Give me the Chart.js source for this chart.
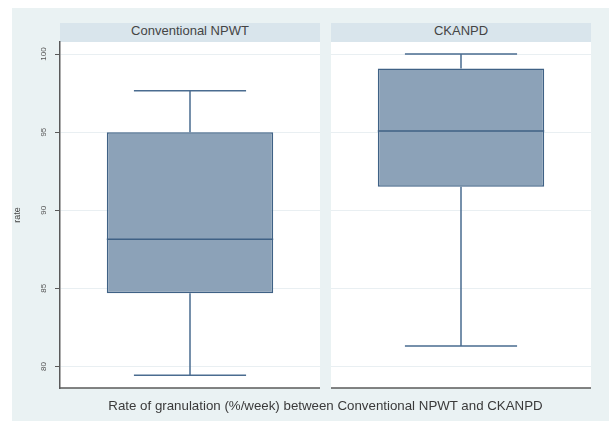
<!DOCTYPE html>
<html>
<head>
<meta charset="utf-8">
<script src="https://cdn.jsdelivr.net/npm/chart.js@4"></script>
<style>
  html, body { margin: 0; padding: 0; background: #ffffff; }
  #wrap { position: relative; width: 609px; height: 421px; overflow: hidden; }
  #bg { position: absolute; left: 12px; top: 8px; right: 0; bottom: 0; background: #eaf2f3; }
  .strip {
    position: absolute; top: 23px; height: 19px; width: 260px;
    background: #d9e5ec; color: #444444; text-align: center; line-height: 19px;
    font: 13px "Liberation Sans", Arial, sans-serif;
  }
  canvas { position: absolute; top: 0; }
  #xtitle {
    position: absolute; left: 60px; width: 531px; top: 398px; text-align: center;
    font: 13.3px "Liberation Sans", Arial, sans-serif; color: #3a3a3a;
  }
</style>
</head>
<body>
<div id="wrap">
  <div id="bg"></div>
  <div class="strip" id="strip0" style="left:60px"></div>
  <div class="strip" id="strip1" style="left:331px"></div>
  <canvas id="c0" width="320" height="421" style="left:0px"></canvas>
  <canvas id="c1" width="260" height="421" style="left:331px"></canvas>
  <div id="xtitle">Rate of granulation (%/week) between Conventional NPWT and CKANPD</div>
</div>
<script>
// Groups and box-plot statistics (rate, %/week)
const groups       = ['Conventional NPWT', 'CKANPD'];
const lowerWhisker = [79.43, 81.31];
const quartile1    = [84.68, 91.50];
const medians      = [88.14, 95.07];
const quartile3    = [95.00, 99.08];
const upperWhisker = [97.65, 100.00];
const yTicks       = [80, 85, 90, 95, 100];
const yTitle       = 'rate';

const Y_MIN = 78.62, Y_MAX = 100.77;
const FILL = '#8ca2b8';
const EDGE = '#3f6185';
const WHISK = '#4a6c90';
const GRID = '#e9eff2';
const AXIS = '#5a5a5a';

// Draws median, whiskers and caps for the box, plus the bottom axis line
const boxWhiskers = {
  id: 'boxWhiskers',
  afterDatasetsDraw(chart, args, opts) {
    const g = opts.group;
    const bar = chart.getDatasetMeta(0).data[0];
    const y = chart.scales.y;
    const ctx = chart.ctx;
    const left = bar.x - bar.width / 2, right = bar.x + bar.width / 2;
    const capHalf = bar.width * 0.337;
    ctx.save();
    ctx.lineCap = 'butt';
    // median
    ctx.strokeStyle = EDGE; ctx.lineWidth = 1.5;
    ctx.beginPath();
    ctx.moveTo(left, y.getPixelForValue(medians[g]));
    ctx.lineTo(right, y.getPixelForValue(medians[g]));
    ctx.stroke();
    // whiskers
    ctx.strokeStyle = WHISK; ctx.lineWidth = 1.5;
    ctx.beginPath();
    ctx.moveTo(bar.x, y.getPixelForValue(quartile3[g]));
    ctx.lineTo(bar.x, y.getPixelForValue(upperWhisker[g]));
    ctx.moveTo(bar.x, y.getPixelForValue(quartile1[g]));
    ctx.lineTo(bar.x, y.getPixelForValue(lowerWhisker[g]));
    // caps
    ctx.moveTo(bar.x - capHalf, y.getPixelForValue(upperWhisker[g]));
    ctx.lineTo(bar.x + capHalf, y.getPixelForValue(upperWhisker[g]));
    ctx.moveTo(bar.x - capHalf, y.getPixelForValue(lowerWhisker[g]));
    ctx.lineTo(bar.x + capHalf, y.getPixelForValue(lowerWhisker[g]));
    ctx.stroke();
    // bottom axis line
    const a = chart.chartArea;
    ctx.strokeStyle = AXIS; ctx.lineWidth = 1.6;
    ctx.beginPath();
    ctx.moveTo(a.left, a.bottom);
    ctx.lineTo(a.right, a.bottom);
    ctx.stroke();
    ctx.restore();
  }
};

// White plotting region behind the gridlines
const plotBg = {
  id: 'plotBg',
  beforeDraw(chart) {
    const a = chart.chartArea, ctx = chart.ctx;
    ctx.save();
    ctx.fillStyle = '#ffffff';
    ctx.fillRect(a.left, a.top, a.right - a.left, a.bottom - a.top);
    ctx.restore();
  }
};

function makePanel(g, canvasId, showAxis) {
  document.getElementById('strip' + g).textContent = groups[g];
  return new Chart(document.getElementById(canvasId), {
    type: 'bar',
    data: {
      labels: [groups[g]],
      datasets: [{
        data: [[quartile1[g], quartile3[g]]],
        backgroundColor: FILL,
        borderColor: EDGE,
        borderWidth: 1.5,
        borderSkipped: false,
        categoryPercentage: 1,
        barPercentage: 0.64
      }]
    },
    options: {
      responsive: false,
      animation: false,
      events: [],
      layout: { padding: { left: showAxis ? 12 : 0, top: 42, bottom: 33, right: 0 } },
      plugins: {
        legend: { display: false },
        tooltip: { enabled: false },
        boxWhiskers: { group: g }
      },
      scales: {
        x: { display: false },
        y: {
          min: Y_MIN, max: Y_MAX,
          afterBuildTicks: (s) => { s.ticks = yTicks.map(v => ({ value: v })); },
          afterFit: (s) => { s.width = showAxis ? 48 : 0; },
          grid: {
            color: GRID, lineWidth: 1,
            drawTicks: showAxis, tickLength: 5, tickColor: AXIS, tickWidth: 1
          },
          border: { display: showAxis, color: AXIS, width: 1.5 },
          ticks: {
            display: showAxis,
            minRotation: 90, maxRotation: 90,
            crossAlign: 'center',
            padding: 5,
            color: '#555555',
            font: { family: '"Liberation Sans", Arial, sans-serif', size: 8 }
          },
          title: {
            display: showAxis, text: yTitle, color: '#444444',
            padding: { top: 0, bottom: 0 },
            font: { family: '"Liberation Sans", Arial, sans-serif', size: 9 }
          }
        }
      }
    },
    plugins: [plotBg, boxWhiskers]
  });
}

makePanel(0, 'c0', true);
makePanel(1, 'c1', false);
</script>
</body>
</html>
